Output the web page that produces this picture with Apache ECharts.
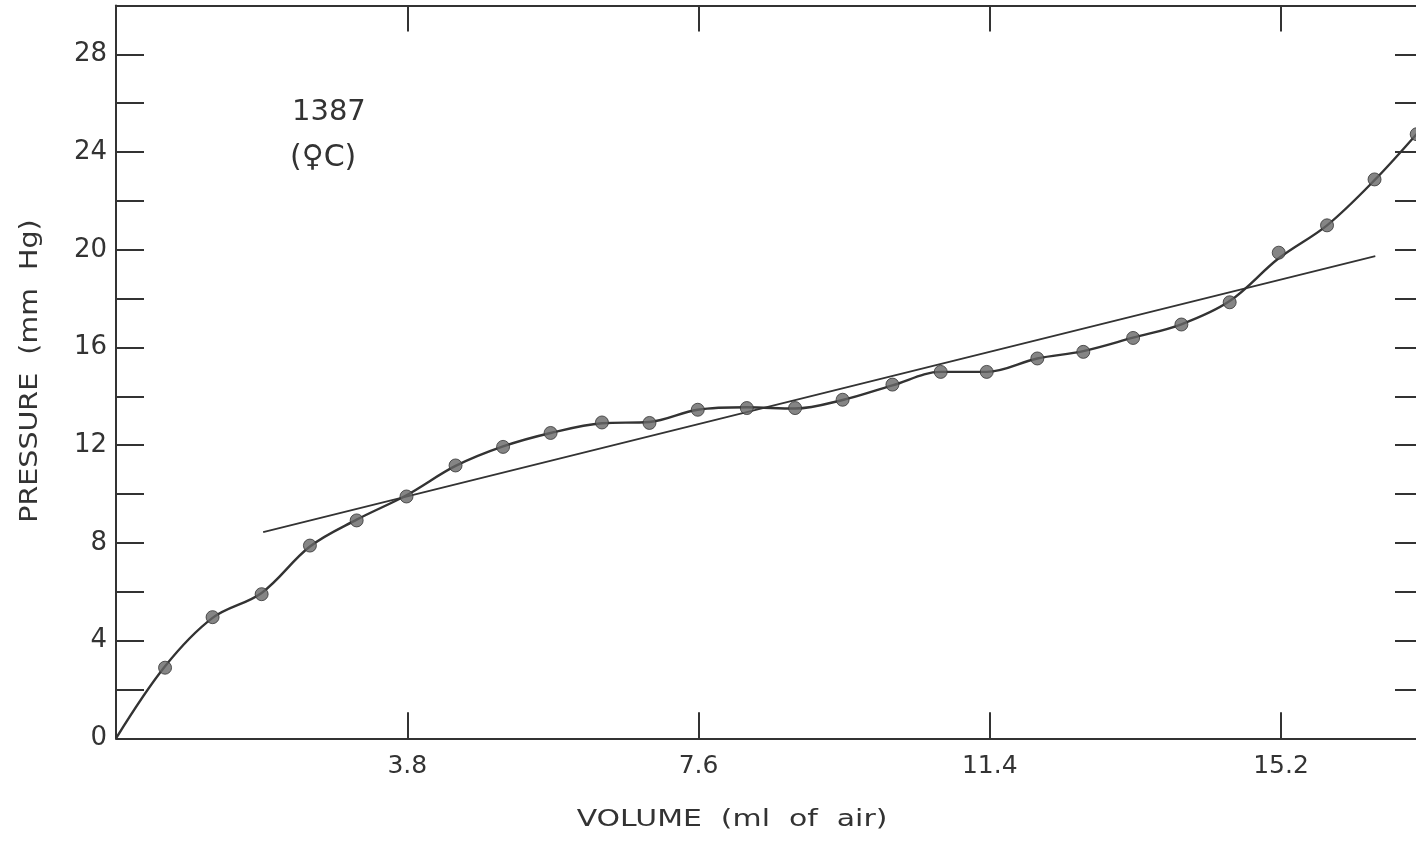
<!DOCTYPE html>
<html>
<head>
<meta charset="utf-8">
<script src="https://cdn.jsdelivr.net/npm/echarts@6/dist/echarts.min.js"></script>
<style>
html,body{margin:0;padding:0;background:#fff;}
#chart{width:1416px;height:845px;}
</style>
</head>
<body>
<div id="chart"></div>
<script>
// Data
var volume = [0.64,1.26,1.90,2.53,3.14,3.79,4.43,5.05,5.67,6.34,6.96,7.59,8.23,8.86,9.48,10.13,10.76,11.36,12.02,12.62,13.27,13.90,14.53,15.17,15.80,16.42,16.97];
var pressure = [2.89,4.96,5.90,7.89,8.92,9.90,11.17,11.93,12.50,12.93,12.91,13.45,13.52,13.52,13.86,14.48,15.00,15.00,15.55,15.82,16.39,16.94,17.85,19.88,21.00,22.88,24.73];
// hand-drawn smooth curve through the points (starts at origin)
var curveVolume = [0,0.64,1.26,1.90,2.53,3.14,3.79,4.43,5.05,5.67,6.34,6.96,7.59,8.23,8.86,9.48,10.13,10.76,11.36,12.02,12.62,13.27,13.90,14.53,15.17,15.80,16.42,17.0];
var curvePressure = [0,2.95,4.93,5.95,7.85,8.95,9.95,11.15,11.95,12.50,12.90,12.95,13.45,13.55,13.50,13.85,14.45,15.00,15.00,15.55,15.85,16.40,16.95,17.90,19.65,21.00,22.85,24.85];
// straight fitted line
var fitVolume = [1.92, 16.43];
var fitPressure = [8.44, 19.74];
var xTickInterval = 3.8;
var yTickInterval = 2;
var yLabelEvery = 4;
var label1 = '1387';
var label2 = '(\u2640C)';
var xName = 'VOLUME  (ml  of  air)';
var yName = 'PRESSURE  (mm  Hg)';

function zip(a, b){ return a.map(function(v,i){ return [v, b[i]]; }); }

var FONT = 'DejaVu Sans';
var INK = '#333';
var chart = echarts.init(document.getElementById('chart'));
function line(){ return {show:true, onZero:false, lineStyle:{color:INK, width:2}}; }
function tick(len){ return {show:true, inside:true, length:len, lineStyle:{color:INK, width:2}}; }
chart.setOption({
  backgroundColor:'#fff',
  animation:false,
  grid:{left:116, top:5.5, right:-3, bottom:106.7, outerBoundsMode:'none', containLabel:false},
  xAxis:[{
    type:'value', position:'bottom', min:0, max:17, interval:xTickInterval,
    axisLine:line(), splitLine:{show:false}, axisTick:tick(26),
    axisLabel:{margin:16, color:INK, fontSize:25, fontFamily:FONT, hideOverlap:false,
      formatter:function(v){ return (v===0 || v>16) ? '' : v.toFixed(1); }}
  },{
    type:'value', position:'top', min:0, max:17, interval:xTickInterval,
    axisLine:line(), splitLine:{show:false}, axisTick:tick(26),
    axisLabel:{show:false}
  }],
  yAxis:[{
    type:'value', position:'left', min:0, max:30, interval:yTickInterval,
    axisLine:line(), splitLine:{show:false}, axisTick:tick(28),
    axisLabel:{margin:9, color:INK, fontSize:26, fontFamily:FONT, hideOverlap:false,
      formatter:function(v){ return (v % yLabelEvery === 0 && v < 30) ? String(v) : ''; }}
  },{
    type:'value', position:'right', min:0, max:30, interval:yTickInterval,
    axisLine:line(), splitLine:{show:false}, axisTick:tick(24),
    axisLabel:{show:false}
  }],
  series:[{
    type:'line', data:zip(curveVolume, curvePressure), smooth:0.35,
    showSymbol:false, lineStyle:{color:INK, width:2.4}, z:2
  },{
    type:'line', data:zip(fitVolume, fitPressure), showSymbol:false,
    lineStyle:{color:INK, width:1.8}, z:2
  },{
    type:'scatter', data:zip(volume, pressure), symbolSize:13,
    itemStyle:{color:'#666', borderColor:'#333', borderWidth:1}, z:3
  }],
  graphic:[{
    type:'text', left:292, top:98,
    style:{text:label1, fontSize:29, fontFamily:FONT, fill:INK}
  },{
    type:'text', left:290, top:143,
    style:{text:label2, fontSize:30, fontFamily:FONT, fill:INK}
  },{
    type:'text', x:732, y:820, scaleX:1.3,
    style:{text:xName, fontSize:23, fontFamily:FONT, fill:INK, align:'center', verticalAlign:'middle'}
  },{
    type:'text', x:30, y:371, rotation:Math.PI/2, scaleX:1.14,
    style:{text:yName, fontSize:25, fontFamily:FONT, fill:INK, align:'center', verticalAlign:'middle'}
  }]
});
</script>
</body>
</html>
